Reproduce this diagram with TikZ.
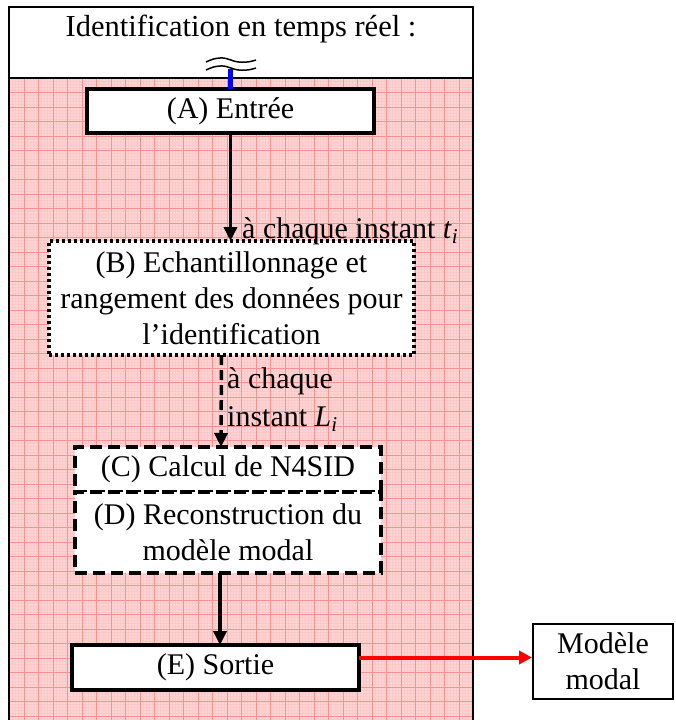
\documentclass[tikz,border=0pt]{standalone}
\usepackage{fontspec}
\setmainfont{Liberation Serif}
\usetikzlibrary{arrows.meta, positioning, calc}
\definecolor{gridpink}{RGB}{255,212,212}
\definecolor{gridline}{RGB}{250,145,145}
\definecolor{gridfine}{RGB}{253,200,200}
\newcommand{\diagfont}{\fontsize{30}{36}\selectfont}

\begin{document}
\begin{tikzpicture}[
    x=1pt, y=-1pt,
    stage/.style={rectangle, draw, fill=white, line width=4pt, inner sep=0pt, outer sep=0pt, align=center, font=\diagfont},
    dotbox/.style={stage, line width=3.5pt, dash pattern=on 3pt off 3pt},
    dashbox/.style={stage, line width=3.5pt, dash pattern=on 12pt off 6pt},
    outbox/.style={rectangle, draw, fill=white, line width=2pt, inner sep=0pt, align=center, font=\diagfont},
    flow/.style={-{Triangle[length=14pt, width=13pt]}, line width=3.5pt},
    redflow/.style={-{Triangle[length=13pt, width=13pt]}, line width=4pt, red},
    lbl/.style={font=\diagfont, inner sep=0pt, align=left}
]
    \useasboundingbox (0,0) rectangle (675,720);

    % pink grid paper
    \fill[gridpink] (9,78) rectangle (473,720);
    \foreach \i in {0,...,159} {
        \draw[gridfine, line width=0.2pt] (9.5+2.9*\i,78) -- (9.5+2.9*\i,720);
    }
    \foreach \i in {0,...,221} {
        \draw[gridfine, line width=0.2pt] (9,78+2.9*\i) -- (473,78+2.9*\i);
    }
    \foreach \i in {0,...,31} {
        \draw[gridline, line width=0.8pt] (9.5+14.5*\i,78) -- (9.5+14.5*\i,720);
    }
    \foreach \i in {0,...,44} {
        \draw[gridline, line width=0.8pt] (9,78+14.5*\i) -- (473,78+14.5*\i);
    }

    % frame and title
    \draw[line width=2.5pt] (9,720) -- (9,7) -- (473,7) -- (473,720);
    \draw[line width=2.5pt] (9,78) -- (473,78);
    \node[font=\fontsize{30.5}{36}\selectfont, inner sep=0pt, anchor=base] (title) at (241,36) {Identification en temps réel :};

    % break symbol
    \draw[line width=1.5pt] (206,62) .. controls (216,57) and (224,57) .. (231,60) .. controls (238,63) and (247,63) .. (256,60);
    \draw[line width=1.5pt] (206,70) .. controls (216,65) and (224,65) .. (231,68) .. controls (238,71) and (247,71) .. (256,68);
    \coordinate (brk) at (230.5,69);

    % stages
    \node[stage, minimum width=287pt, minimum height=44pt] (entree) at (230.5,111) {(A) Entrée};
    \node[dotbox, minimum width=365pt, minimum height=114pt] (echant) at (231.5,298)
        {(B) Echantillonnage et\\rangement des données pour\\l’identification};
    \node[dashbox, minimum width=306pt, minimum height=45pt] (calcul) at (228,469.5) {(C) Calcul de N4SID};
    \node[dashbox, minimum width=306pt, minimum height=81pt, below=0pt of calcul] (recons)
        {(D) Reconstruction du\\modèle modal};
    \node[stage, minimum width=287pt, minimum height=45pt] (sortie) at (215.5,667.5) {(E) Sortie};
    \node[outbox, minimum width=140pt, minimum height=75pt] (modele) at (603,661.5) {Modèle\\modal};

    % connectors
    \draw[blue, line width=4.5pt] (brk) -- (entree.north -| brk);
    \draw[flow] (entree.south) -- (echant.north -| entree.south);
    \node[lbl, anchor=base west] (ti) at (242,238) {à chaque instant \textit{t}\textsubscript{\textit{i}}};
    \draw[flow, dash pattern=on 10pt off 5pt] ([xshift=-10pt]echant.south) -- ([xshift=-7pt]calcul.north);
    \node[lbl, anchor=north west, font=\fontsize{30}{38}\selectfont] (li) at (227,367) {à chaque\\instant \textit{L}\textsubscript{\textit{i}}};
    \draw[flow] ([xshift=-8pt]recons.south) -- (sortie.north -| {$(recons.south)+(-8,0)$});
    \draw[redflow] ([yshift=10pt]sortie.east) coordinate (sout) -- (sout -| modele.west);

\end{tikzpicture}
\end{document}
